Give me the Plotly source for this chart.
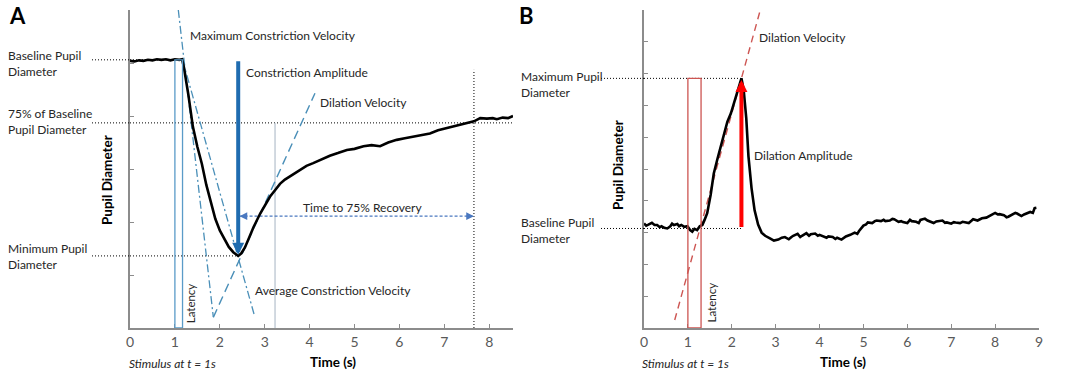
import plotly.graph_objects as go

# ---------------- Panel A data (pupillary light reflex) ----------------
a_time = [0, 0.1, 0.2, 0.3, 0.4, 0.5, 0.6, 0.7, 0.8, 0.9, 1.0, 1.1, 1.16, 1.2, 1.3,
          1.4, 1.5, 1.6, 1.7, 1.8, 1.9, 2.0, 2.1, 2.2, 2.3, 2.41, 2.48, 2.56, 2.65,
          2.75, 2.9, 3.0, 3.12, 3.23, 3.34, 3.45, 3.56, 3.68, 3.79, 3.93, 4.08, 4.25,
          4.45, 4.63, 4.83, 5.0, 5.2, 5.38, 5.57, 5.75, 5.94, 6.12, 6.31, 6.5, 6.68,
          6.86, 7.05, 7.23, 7.42, 7.55, 7.66, 7.8, 7.95, 8.08, 8.17, 8.3, 8.42, 8.53]
a_diam = [5.04, 5.03, 5.05, 5.04, 5.06, 5.05, 5.07, 5.06, 5.07, 5.05, 5.07, 5.06, 5.07, 4.92, 4.4,
          3.8, 3.42, 3.1, 2.7, 2.36, 2.06, 1.84, 1.67, 1.53, 1.43, 1.36, 1.41, 1.52, 1.7,
          1.9, 2.16, 2.3, 2.48, 2.6, 2.72, 2.8, 2.86, 2.93, 2.98, 3.06, 3.11, 3.18,
          3.25, 3.3, 3.36, 3.38, 3.43, 3.45, 3.43, 3.5, 3.55, 3.58, 3.61, 3.63, 3.67,
          3.73, 3.77, 3.81, 3.85, 3.88, 3.9, 3.96, 3.95, 3.96, 3.94, 3.97, 3.96, 4.0]
a_baseline = 5.06
a_minimum = 1.36
a_recovery75 = 3.87
a_t_min = 2.41
a_t_recovery = 7.66
a_latency = [1.0, 1.17]
a_gray_t = 3.23
a_recovery_level = 2.11
a_maxvel_t = [1.076, 1.855]
a_maxvel_y = [6.0, 0.21]
a_avgvel_t = [1.17, 2.78]
a_avgvel_y = [5.06, 0.21]
a_dilvel_t = [1.855, 4.12]
a_dilvel_y = [0.2, 4.43]
a_xticks = [0, 1, 2, 3, 4, 5, 6, 7, 8]

# ---------------- Panel B data (dilation response) ----------------
b_time = [0, 0.05, 0.1, 0.18, 0.24, 0.3, 0.36, 0.4, 0.46, 0.53, 0.6, 0.64, 0.68, 0.76, 0.8,
          0.85, 0.92, 0.99, 1.05, 1.1, 1.15, 1.21, 1.27, 1.33, 1.38, 1.44, 1.52, 1.59,
          1.67, 1.75, 1.83, 1.9, 1.98, 2.05, 2.13, 2.22, 2.27, 2.33, 2.38, 2.45, 2.52,
          2.6, 2.68, 2.76, 2.87, 2.96, 3.06, 3.14, 3.21, 3.3, 3.36, 3.4, 3.5, 3.56, 3.6,
          3.7, 3.76, 3.8, 3.9, 3.96, 4.0, 4.1, 4.16, 4.2, 4.3, 4.36, 4.4, 4.5, 4.56, 4.6,
          4.7, 4.8, 4.86, 4.9, 5.0, 5.06, 5.1, 5.2, 5.26, 5.3, 5.4, 5.46, 5.5, 5.6, 5.66,
          5.7, 5.8, 5.86, 5.9, 6.0, 6.06, 6.1, 6.2, 6.26, 6.3, 6.4, 6.46, 6.5, 6.6, 6.66,
          6.7, 6.8, 6.86, 6.9, 7.0, 7.06, 7.1, 7.2, 7.26, 7.3, 7.4, 7.46, 7.5, 7.6, 7.66,
          7.7, 7.8, 7.86, 7.9, 8.0, 8.06, 8.1, 8.2, 8.26, 8.3, 8.4, 8.46, 8.5, 8.6, 8.66,
          8.7, 8.8, 8.86, 8.9, 8.94]
b_diam = [3.29, 3.22, 3.25, 3.31, 3.24, 3.24, 3.17, 3.2, 3.15, 3.13, 3.2, 3.28, 3.24, 3.27, 3.2,
          3.24, 3.18, 3.2, 3.08, 3.03, 3.12, 3.08, 3.2, 3.24, 3.4, 3.61, 4.2, 4.86,
          5.3, 5.7, 6.1, 6.49, 6.75, 7.07, 7.4, 7.85, 7.5, 6.6, 5.4, 4.4, 3.7,
          3.25, 3.0, 2.9, 2.82, 2.75, 2.78, 2.84, 2.86, 2.79, 2.86, 2.9, 2.96, 2.86, 2.9,
          2.98, 2.9, 2.95, 2.97, 2.9, 2.93, 2.88, 2.84, 2.88, 2.86, 2.8, 2.84, 2.78, 2.83, 2.88,
          2.93, 3.0, 2.96, 3.05, 3.22, 3.26, 3.32, 3.3, 3.36, 3.38, 3.36, 3.4, 3.36, 3.38, 3.43,
          3.42, 3.34, 3.36, 3.33, 3.3, 3.4, 3.36, 3.34, 3.3, 3.4, 3.44, 3.38, 3.35, 3.3, 3.35,
          3.36, 3.38, 3.31, 3.32, 3.28, 3.33, 3.32, 3.3, 3.34, 3.33, 3.3, 3.37, 3.42, 3.38, 3.42,
          3.45, 3.47, 3.52, 3.55, 3.62, 3.57, 3.58, 3.55, 3.48, 3.5, 3.57, 3.62, 3.6, 3.52, 3.57,
          3.6, 3.65, 3.62, 3.77, 3.78]
b_baseline = 3.13
b_maximum = 7.85
b_t_max = 2.22
b_latency = [1.0, 1.3]
b_dilvel_t = [0.70, 2.64]
b_dilvel_y = [0.25, 9.95]
b_xticks = [0, 1, 2, 3, 4, 5, 6, 7, 8, 9]

W, H = 1065, 373
FONT = "Lato"
TXT = "#262626"
BLUE = "#1f6cb0"
TEAL = "#4a8fb8"
RED = "#ff0000"
LRED = "#cd5552"
LS = 12  # label font size


def px(x):
    return x / W


def py(y):
    return 1 - y / H


fig = go.Figure()


def line(xs, ys, color, width, dash, xa="x", ya="y"):
    fig.add_trace(go.Scatter(x=xs, y=ys, mode="lines", xaxis=xa, yaxis=ya,
                             line=dict(color=color, width=width, dash=dash),
                             hoverinfo="skip", showlegend=False))


# ---------- Panel A ----------
line([0, a_time[12]], [a_baseline, a_baseline], "#000", 1, "1px,2px")
line([0, a_time[-1]], [a_recovery75, a_recovery75], "#000", 1, "1px,2px")
line([0, a_t_min], [a_minimum, a_minimum], "#000", 1, "1px,2px")
line([a_t_recovery, a_t_recovery], [0, 4.87], "#000", 1, "1px,2px")
line([a_gray_t, a_gray_t], [0, a_recovery75], "#b4c0cc", 1.2, "solid")
line(a_maxvel_t, a_maxvel_y, TEAL, 1.3, "8px,3px,2px,3px")
line(a_avgvel_t, a_avgvel_y, TEAL, 1.3, "8px,3px,2px,3px")
line(a_dilvel_t, a_dilvel_y, TEAL, 1.4, "9px,5px")
line([a_t_min + 0.03, a_t_recovery], [a_recovery_level, a_recovery_level], "#4a78c0", 1.4, "3px,2px")
fig.add_trace(go.Scatter(x=a_time, y=a_diam, mode="lines", xaxis="x", yaxis="y",
                         line=dict(color="#000", width=2.6), hoverinfo="skip", showlegend=False))

fig.add_shape(type="rect", xref="x", yref="y", x0=a_latency[0], x1=a_latency[1],
              y0=0, y1=a_baseline, line=dict(color="#5a9bc8", width=1.3))

# ---------- Panel B ----------
line([0, b_t_max], [b_baseline, b_baseline], "#000", 1, "1px,2px", "x2", "y2")
line([0, b_t_max], [b_maximum, b_maximum], "#000", 1, "1px,2px", "x2", "y2")
line(b_dilvel_t, b_dilvel_y, LRED, 1.4, "7px,5px", "x2", "y2")
fig.add_trace(go.Scatter(x=b_time, y=b_diam, mode="lines", xaxis="x2", yaxis="y2",
                         line=dict(color="#000", width=2.6), hoverinfo="skip", showlegend=False))
fig.add_shape(type="rect", xref="x2", yref="y2", x0=b_latency[0], x1=b_latency[1],
              y0=0, y1=b_maximum, line=dict(color=LRED, width=1.3))

# dotted leader lines in the left margins (paper x, data y)
for yv in [a_baseline, a_recovery75, a_minimum]:
    fig.add_shape(type="line", xref="paper", yref="y", x0=px(92), x1=px(130), y0=yv, y1=yv,
                  line=dict(color="#000", width=1, dash="1px,2px"))
for yv in [b_baseline, b_maximum]:
    fig.add_shape(type="line", xref="paper", yref="y2", x0=px(601), x1=px(644), y0=yv, y1=yv,
                  line=dict(color="#000", width=1, dash="1px,2px"))

ann = []


def text(x, y, s, xref="x", yref="y", xanchor="left", yanchor="middle", size=LS,
         color=TXT, bold=False, italic=False, angle=0, align="left"):
    if bold:
        s = "<b>" + s + "</b>"
    if italic:
        s = "<i>" + s + "</i>"
    ann.append(dict(x=x, y=y, xref=xref, yref=yref, text=s, showarrow=False,
                    xanchor=xanchor, yanchor=yanchor, textangle=angle, align=align,
                    font=dict(family=FONT, size=size, color=color)))


# arrows
ann.append(dict(x=a_t_min, y=a_minimum + 0.02, ax=a_t_min, ay=a_baseline, xref="x", yref="y",
                axref="x", ayref="y", showarrow=True, arrowhead=2, arrowsize=0.6,
                arrowwidth=4, arrowcolor=BLUE, text=""))
ann.append(dict(x=a_t_recovery, y=a_recovery_level, ax=-9, ay=0, xref="x", yref="y",
                showarrow=True, arrowhead=2, arrowsize=1.1, arrowwidth=1.4,
                arrowcolor="#4a78c0", text=""))
ann.append(dict(x=a_t_min + 0.03, y=a_recovery_level, ax=9, ay=0, xref="x", yref="y",
                showarrow=True, arrowhead=2, arrowsize=1.1, arrowwidth=1.4,
                arrowcolor="#4a78c0", text=""))
ann.append(dict(x=b_t_max, y=b_maximum - 0.05, ax=b_t_max, ay=b_baseline, xref="x2", yref="y2",
                axref="x2", ayref="y2", showarrow=True, arrowhead=2, arrowsize=0.6,
                arrowwidth=4, arrowcolor=RED, text=""))

# Panel A labels
text(1.29, 5.51, "Maximum Constriction Velocity")
text(2.54, 4.83, "Constriction Amplitude")
text(4.19, 4.25, "Dilation Velocity")
text(5.17, 2.28, "Time to 75% Recovery", xanchor="center")
text(2.74, 0.70, "Average Constriction Velocity")
text(1.34, 0.47, "Latency", xanchor="center", angle=-90, size=11.5)
text(px(6), a_baseline - 0.07, "Baseline Pupil<br>Diameter", xref="paper")
text(px(6), a_recovery75 + 0.02, "75% of Baseline<br>Pupil Diameter", xref="paper")
text(px(6), a_minimum - 0.02, "Minimum Pupil<br>Diameter", xref="paper")
text(px(107), py(180), "Pupil Diameter", xref="paper", yref="paper", xanchor="center",
     bold=True, angle=-90, size=13.5, color="#000")
text(px(333), py(362), "Time (s)", xref="paper", yref="paper", xanchor="center",
     bold=True, size=13.5, color="#000")
text(px(127), py(363), "Stimulus at t = 1s", xref="paper", yref="paper", italic=True)
text(px(7), py(15), "A", xref="paper", yref="paper", bold=True, size=22, color="#000")

# Panel B labels
text(2.57, 9.15, "Dilation Velocity", xref="x2", yref="y2")
text(2.46, 5.44, "Dilation Amplitude", xref="x2", yref="y2")
text(1.54, 0.79, "Latency", xref="x2", yref="y2", xanchor="center", angle=-90, size=11.5)
text(px(519), b_maximum - 0.2, "Maximum Pupil<br>Diameter", xref="paper", yref="y2")
text(px(519), b_baseline - 0.05, "Baseline Pupil<br>Diameter", xref="paper", yref="y2")
text(px(618), py(165), "Pupil Diameter", xref="paper", yref="paper", xanchor="center",
     bold=True, angle=-90, size=13.5, color="#000")
text(px(843), py(362), "Time (s)", xref="paper", yref="paper", xanchor="center",
     bold=True, size=13.5, color="#000")
text(px(640), py(363), "Stimulus at t = 1s", xref="paper", yref="paper", italic=True)
text(px(517), py(15), "B", xref="paper", yref="paper", bold=True, size=22, color="#000")

axis_common = dict(showgrid=False, zeroline=False, showline=True, linecolor="#8c8c8c",
                   linewidth=1.6, ticks="inside", ticklen=4, tickcolor="#8c8c8c",
                   tickwidth=1, automargin=False,
                   tickfont=dict(family=FONT, size=14, color="#595959"))

fig.update_layout(
    width=W, height=H, margin=dict(l=0, r=0, t=0, b=0, autoexpand=False),
    paper_bgcolor="white", plot_bgcolor="white", showlegend=False,
    annotations=ann,
    xaxis=dict(domain=[px(130), px(513)], range=[0, 8.53], tickvals=a_xticks,
               anchor="y", **axis_common),
    yaxis=dict(domain=[py(328), py(10)], range=[0, 6], tickvals=[0, 1, 2, 3, 4, 5, 6],
               showticklabels=False, anchor="x", **axis_common),
    xaxis2=dict(domain=[px(644), px(1039)], range=[0, 9], tickvals=b_xticks,
                anchor="y2", **axis_common),
    yaxis2=dict(domain=[py(328), py(10)], range=[0, 10], tickvals=list(range(11)),
                showticklabels=False, anchor="x2", **axis_common),
)

fig.write_html("out.html", config={"displayModeBar": False},
               post_script="document.body.style.margin='0';document.body.style.overflow='hidden';")
